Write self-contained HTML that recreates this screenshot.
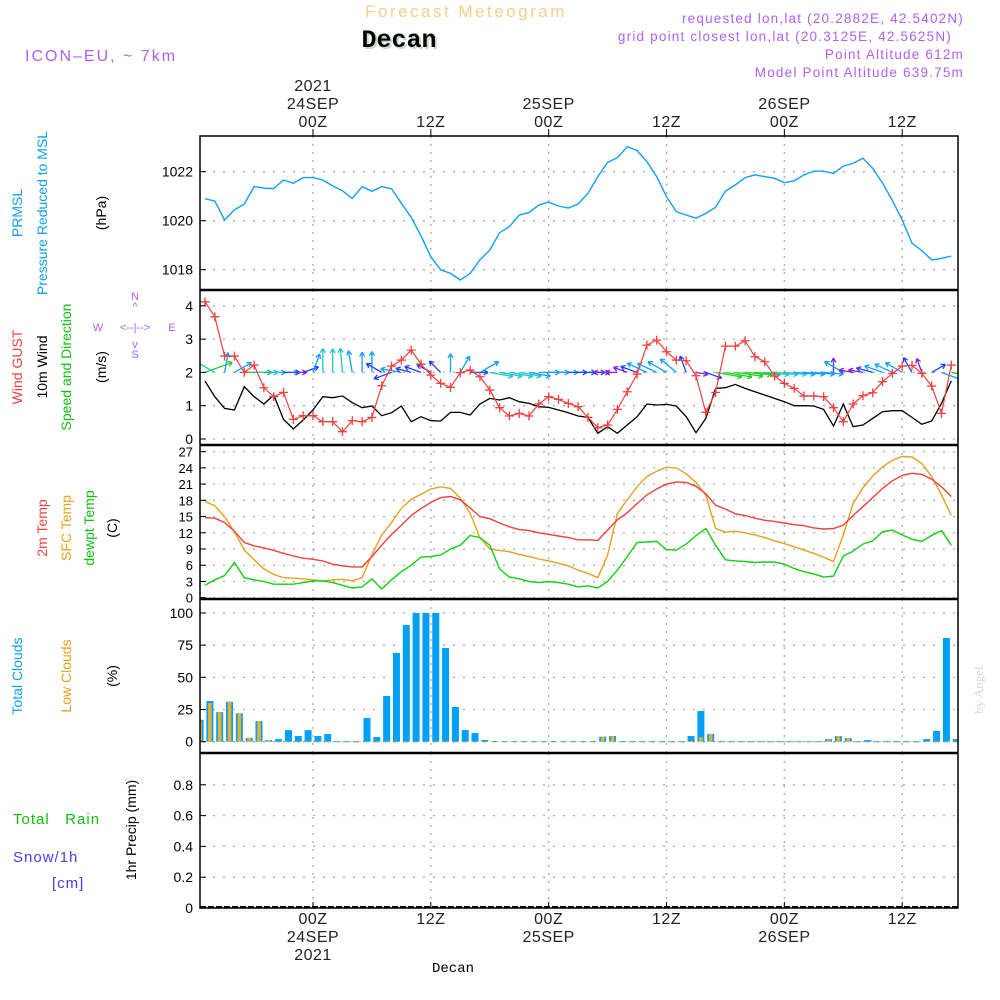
<!DOCTYPE html>
<html><head><meta charset="utf-8"><style>
html,body{margin:0;padding:0;background:#fff;}
svg{display:block;font-family:"Liberation Sans",sans-serif;}
</style></head><body>
<svg id="chart" width="1000" height="1000" viewBox="0 0 1000 1000" xmlns="http://www.w3.org/2000/svg">
<defs>
<clipPath id="cp-p"><rect x="200" y="136" width="758" height="154"/></clipPath>
<clipPath id="cp-w"><rect x="200" y="290" width="758" height="155"/></clipPath>
<clipPath id="cp-t"><rect x="200" y="445" width="758" height="154"/></clipPath>
<clipPath id="cp-c"><rect x="200" y="599" width="758" height="154"/></clipPath>
</defs>
<!-- header -->
<text x="466" y="17" text-anchor="middle" font-size="17" letter-spacing="2.5" fill="#f5cf8a">Forecast Meteogram</text>
<text x="401" y="49" text-anchor="middle" font-size="25" font-weight="bold" font-family="Liberation Mono, monospace" fill="#c8d8c8">Decan</text>
<text x="399" y="47" text-anchor="middle" font-size="25" font-weight="bold" font-family="Liberation Mono, monospace" fill="#000">Decan</text>
<text x="25" y="61" font-size="16" letter-spacing="2" fill="#b060f0">ICON–EU, ~ 7km</text>
<g font-size="13.5" letter-spacing="1.2" fill="#b060f0" text-anchor="end">
<text x="964" y="23">requested lon,lat (20.2882E, 42.5402N)</text>
<text x="952" y="41">grid point closest lon,lat (20.3125E, 42.5625N)</text>
<text x="964" y="59">Point Altitude 612m</text>
<text x="964" y="77">Model Point Altitude 639.75m</text>
</g>
<!-- left labels -->
<g font-size="14">
<text transform="translate(22,213) rotate(-90)" text-anchor="middle" fill="#10a0f0">PRMSL</text>
<text transform="translate(47,213) rotate(-90)" text-anchor="middle" fill="#10a0f0">Pressure Reduced to MSL</text>
<text transform="translate(106,213) rotate(-90)" text-anchor="middle" fill="#000">(hPa)</text>
</g>
<g font-size="14">
<text transform="translate(22,367) rotate(-90)" text-anchor="middle"><tspan fill="#f04040">Wind GUST</tspan></text>
<text transform="translate(47,367) rotate(-90)" text-anchor="middle" fill="#000">10m Wind</text>
<text transform="translate(71,367) rotate(-90)" text-anchor="middle" fill="#10c010">Speed and Direction</text>
<text transform="translate(106,367) rotate(-90)" text-anchor="middle" fill="#000">(m/s)</text>
</g>
<g font-size="11" fill="#b060f0" text-anchor="middle">
<text x="135" y="300">N</text><text x="135" y="310">^</text>
<text x="98" y="331">W</text><text x="135" y="331">&lt;--|--&gt;</text><text x="172" y="331">E</text>
<text x="135" y="348">v</text><text x="135" y="358">S</text>
</g>
<g font-size="14">
<text transform="translate(47,528) rotate(-90)" text-anchor="middle" fill="#f04040">2m Temp</text>
<text transform="translate(71,528) rotate(-90)" text-anchor="middle" fill="#e8a020">SFC Temp</text>
<text transform="translate(94,528) rotate(-90)" text-anchor="middle" fill="#10c010">dewpt Temp</text>
<text transform="translate(117,528) rotate(-90)" text-anchor="middle" fill="#000">(C)</text>
</g>
<g font-size="14">
<text transform="translate(22,676) rotate(-90)" text-anchor="middle" fill="#10a0f0">Total Clouds</text>
<text transform="translate(71,676) rotate(-90)" text-anchor="middle" fill="#e8a020">Low Clouds</text>
<text transform="translate(117,676) rotate(-90)" text-anchor="middle" fill="#000">(%)</text>
</g>
<g font-size="15" letter-spacing="1">
<text x="13" y="824" fill="#10c010" xml:space="preserve">Total   Rain</text>
<text x="13" y="862" fill="#4040f0">Snow/1h</text>
<text x="52" y="888" fill="#4040f0">[cm]</text>
<text transform="translate(136,830) rotate(-90)" text-anchor="middle" font-size="14" letter-spacing="0" fill="#000">1hr Precip (mm)</text>
</g>
<text transform="translate(983,690) rotate(-90)" text-anchor="middle" font-size="13" font-family="Liberation Serif, serif" fill="#d8d8d8">by Angel</text>
<text x="453" y="972" text-anchor="middle" font-size="14" font-family="Liberation Mono, monospace" fill="#000">Decan</text>
<g id="grid"></g>
<g id="marks"></g>
<g id="frame"></g>
</svg>
<script>
// ---- data (hourly, hours relative to 00Z 24SEP) ----
const hourStart = -11;
const pressure = [1020.90,1020.80,1020.03,1020.44,1020.68,1021.39,1021.33,1021.31,1021.66,1021.53,1021.76,1021.76,1021.66,1021.42,1021.22,1020.91,1021.39,1021.2,1021.39,1021.3,1020.71,1020.14,1019.38,1018.53,1017.99,1017.85,1017.58,1017.85,1018.4,1018.8,1019.51,1019.76,1020.23,1020.33,1020.64,1020.76,1020.6,1020.52,1020.68,1021.12,1021.8,1022.38,1022.57,1023.02,1022.86,1022.41,1021.8,1020.98,1020.37,1020.23,1020.1,1020.3,1020.55,1021.21,1021.46,1021.76,1021.87,1021.8,1021.73,1021.55,1021.63,1021.87,1022.02,1022.02,1021.93,1022.23,1022.34,1022.55,1022.14,1021.53,1020.82,1020.03,1019.08,1018.78,1018.4,1018.46,1018.56];
const gust = [4.12,3.67,2.49,2.49,2.0,2.22,1.54,1.27,1.4,0.59,0.7,0.7,0.52,0.52,0.22,0.55,0.52,0.65,1.6,2.19,2.37,2.67,2.25,1.92,1.67,1.55,1.99,2.07,1.87,1.47,0.94,0.69,0.77,0.69,1.05,1.27,1.19,1.07,0.97,0.65,0.34,0.42,0.89,1.42,1.95,2.82,2.97,2.62,2.37,2.35,1.9,0.8,1.4,2.79,2.79,2.95,2.47,2.32,1.89,1.67,1.52,1.29,1.29,1.27,0.94,0.52,1.05,1.3,1.39,1.72,1.97,2.19,2.21,1.97,1.59,0.77,2.22];
const wind10 = [1.74,1.27,0.92,0.87,1.57,1.27,1.05,1.32,0.59,0.3,0.57,0.87,1.27,1.24,1.29,1.09,0.94,0.99,0.7,0.79,0.99,0.52,0.67,0.55,0.54,0.8,0.8,0.72,1.05,1.22,1.17,1.24,1.12,1.07,0.97,0.95,0.87,0.79,0.69,0.65,0.17,0.37,0.17,0.42,0.67,1.05,1.02,1.04,0.99,0.67,0.19,0.62,1.52,1.54,1.64,1.52,1.42,1.32,1.22,1.12,1.0,1.0,0.99,0.89,0.39,1.05,0.37,0.42,0.62,0.82,0.85,0.85,0.65,0.44,0.54,1.07,1.75];
const windDir = [20,150,80,30,0,0,0,0,0,0,20,70,90,90,95,100,90,90,150,200,170,165,160,150,135,90,60,0,30,-10,-10,-10,-10,-10,0,0,0,0,0,0,0,180,180,160,160,155,155,150,140,110,-10,-20,-10,-10,-8,-5,-5,-5,-5,-5,-5,-5,-5,-5,90,150,170,170,165,160,155,150,120,110,30,-20,-10];
const temp2m = [14.8,14.7,13.9,12.3,10.2,9.6,9.2,8.75,8.2,7.7,7.3,7.1,6.8,6.2,5.9,5.7,5.7,7.6,9.7,11.7,13.4,15.2,16.5,17.6,18.5,18.7,18.1,16.6,15.0,14.6,13.8,13.1,12.6,12.4,12.0,11.7,11.4,11.1,10.7,10.7,10.6,12.5,14.4,15.7,17.4,19.0,20.1,21.0,21.4,21.3,20.6,19.2,17.1,16.4,15.5,15.2,14.7,14.3,14.1,13.8,13.5,13.3,12.9,12.7,12.8,13.4,15.2,16.8,18.5,20.2,21.6,22.6,23.0,22.8,21.9,20.5,18.7];
const tempSfc = [17.8,17.0,15.0,12.2,8.8,7.0,5.3,4.3,3.7,3.6,3.5,3.3,3.1,3.3,3.4,3.1,3.7,7.9,11.6,13.9,16.5,18.2,19.1,20.1,20.5,20.2,18.4,15.6,11.1,9.0,8.75,8.5,8.0,7.6,7.15,6.8,6.35,5.9,5.1,4.5,3.7,7.9,15.6,18.1,20.5,22.4,23.4,24.1,24.0,22.9,21.3,19.0,12.8,12.1,12.3,12.0,11.6,11.1,10.5,10.0,9.4,8.8,8.2,7.5,6.7,11.6,17.4,20.3,22.5,24.2,25.4,26.1,26.0,24.8,22.4,19.0,15.2];
const dewpt = [2.3,3.3,4.1,6.5,3.7,3.3,3.0,2.5,2.5,2.5,2.8,3.1,3.1,2.8,2.3,1.8,2.0,3.5,1.6,3.3,4.8,6.0,7.5,7.6,7.9,9.0,9.7,11.5,11.1,9.7,5.3,3.8,3.5,3.0,2.8,3.0,2.8,2.5,2.0,2.2,1.8,3.0,5.1,7.6,10.2,10.3,10.4,8.9,8.8,9.9,11.5,12.8,9.7,7.0,6.8,6.7,6.5,6.6,6.6,6.2,5.4,4.8,4.4,3.8,4.0,7.7,8.6,9.9,10.5,12.2,12.5,11.6,10.8,10.4,11.5,12.4,9.7];
const cloudStart = -12;
const totalClouds = [17,31.6,23,31,22,3,16,1.3,2,9,4.4,9,4.4,6,0.5,0.5,0.5,18.4,3.6,35.5,69,90.7,100,100,100,72.8,27,9,6.7,1.3,0.5,0.5,0.5,0.5,0.5,0.5,0.5,0.5,0.5,0.5,0.5,3.9,4.4,0.5,0.5,0.5,0.5,0.5,0.5,0.5,4.4,23.8,6,0.5,0.5,0.5,0.5,0.5,0.5,0.5,0.5,0.5,0.5,0.5,2,4.4,2.8,0.5,1.3,0.5,0.5,0.5,0.5,0.5,2,8.3,80.6,2];
const lowClouds = [15.5,30,23,31,22,3,16,1.3,0,0,0,0,0,0,0,0,0,0,0,0,0,0,0,0,0,0,0,0,0,0,0,0,0,0,0,0,0,0,0,0,0,3.9,4.4,0,0,0,0,0,0,0,0.5,3.6,6,0,0,0,0,0,0,0,0,0,0,0,2,4.4,2.8,0,0,0,0,0,0,0,0.5,0,0,0];
const pressureTicks = [1018,1020,1022];
const windTicks = [0,1,2,3,4];
const tempTicks = [0,3,6,9,12,15,18,21,24,27];
const cloudTicks = [0,25,50,75,100];
const precipTicks = [0,0.2,0.4,0.6,0.8];
const timeTicks = [0,12,24,36,48,60];
const timeTopLabels = [["2021","24SEP","00Z"],["","","12Z"],["","25SEP","00Z"],["","","12Z"],["","26SEP","00Z"],["","","12Z"]];
const timeBottomLabels = [["00Z","24SEP","2021"],["12Z","",""],["00Z","25SEP",""],["12Z","",""],["00Z","26SEP",""],["12Z","",""]];

// ---- axes ----
const X = h => 313 + h * 9.82;
const Yp = p => 220.7 - (p - 1020) * 24.5;
const Yw = v => 439 - 33.3 * v;
const Yt = t => 597.7 - 5.41 * t;
const Yc = c => 741.7 - 1.287 * c;
const Ypr = v => 908 - 154 * v;

const NS = 'http://www.w3.org/2000/svg';
function mk(tag, attrs, parent){
  const e = document.createElementNS(NS, tag);
  for (const k in attrs) e.setAttribute(k, attrs[k]);
  parent.appendChild(e);
  return e;
}
const grid = document.getElementById('grid');
const marks = document.getElementById('marks');
const frame = document.getElementById('frame');
const panels = [
  {top:136,bot:290,ticks:pressureTicks,Y:Yp,name:'pressure',fmt:v=>String(v)},
  {top:290,bot:445,ticks:windTicks,Y:Yw,name:'wind',fmt:v=>String(v)},
  {top:445,bot:599,ticks:tempTicks,Y:Yt,name:'temp',fmt:v=>String(v)},
  {top:599,bot:753,ticks:cloudTicks,Y:Yc,name:'cloud',fmt:v=>String(v)},
  {top:753,bot:908,ticks:precipTicks,Y:Ypr,name:'precip',fmt:v=>v===0?'0':v.toFixed(1)}
];
panels.forEach(P => {
  timeTicks.forEach(h => {
    const l = mk('line',{x1:X(h),x2:X(h),y1:P.top,y2:P.bot,stroke:'#aaa','stroke-width':1.3,'stroke-dasharray':'2,6'},grid);
    
    
  });
  P.ticks.forEach(v => {
    const y = P.Y(v);
    const g = mk('line',{x1:203,x2:958,y1:y,y2:y,stroke:'#aaa','stroke-width':1.3,'stroke-dasharray':'2,8'},grid);
    
    
    mk('line',{x1:200,x2:206,y1:y,y2:y,stroke:'#000','stroke-width':1},frame);
    const t = mk('text',{x:193,y:y+5,'text-anchor':'end','font-size':P.name==='temp'?13:14,fill:'#000'},frame);
    
    
    t.textContent = P.fmt(v);
  });
});
// time labels
timeTicks.forEach((h,i) => {
  mk('line',{x1:X(h),x2:X(h),y1:129,y2:136,stroke:'#000'},frame);
  mk('line',{x1:X(h),x2:X(h),y1:908,y2:902,stroke:'#000'},frame);
  timeTopLabels[i].forEach((s,j) => {
    if(!s) return;
    const t = mk('text',{x:X(h),y:[91,109,127][j],'text-anchor':'middle','font-size':16,fill:'#222','letter-spacing':'0.5'},frame);
    
    
    t.textContent = s;
  });
  timeBottomLabels[i].forEach((s,j) => {
    if(!s) return;
    const t = mk('text',{x:X(h),y:[924,942,960][j],'text-anchor':'middle','font-size':16,fill:'#222','letter-spacing':'0.5'},frame);
    
    
    t.textContent = s;
  });
});
// frame
mk('rect',{x:200,y:136,width:758,height:772,fill:'none',stroke:'#000','stroke-width':1.5},frame);
[290,445,599,753].forEach(y => {
  const l = mk('line',{x1:200,x2:958,y1:y,y2:y,stroke:'#000','stroke-width':2.5},frame);
  
  
});
mk('line',{x1:200,x2:958,y1:907,y2:907,stroke:'#000','stroke-width':2,'stroke-dasharray':'6,2'},frame);

function linePath(arr, Y){
  return arr.map((v,i) => (i?'L':'M') + X(hourStart+i).toFixed(1) + ',' + Y(v).toFixed(1)).join(' ');
}
// pressure
const pl = mk('path',{d:linePath(pressure,Yp),fill:'none',stroke:'#10a0f0','stroke-width':1.4,'clip-path':'url(#cp-p)'},marks);


// wind 10m
const wl = mk('path',{d:linePath(wind10,Yw),fill:'none',stroke:'#000','stroke-width':1.3,'clip-path':'url(#cp-w)'},marks);


// wind arrows
function arrowColor(s){
  if (s < 0.5) return '#8020e0';
  if (s < 0.8) return '#2040ff';
  if (s < 1.1) return '#10a0ff';
  if (s < 1.4) return '#20c8c8';
  return '#20d020';
}
windDir.forEach((d,i) => {
  const h = hourStart + i;
  const x0 = X(h), y0 = Yw(2);
  const len = 10 + 11 * wind10[i];
  const a = d * Math.PI / 180;
  const x1 = x0 + len*Math.cos(a), y1 = y0 - len*Math.sin(a);
  const col = arrowColor(wind10[i]);
  const g = mk('g',{stroke:col,'stroke-width':1.3,fill:'none','clip-path':'url(#cp-w)'},marks);
  
  
  mk('line',{x1:x0,y1:y0,x2:x1,y2:y1},g);
  [150,-150].forEach(off => {
    const b = a + off*Math.PI/180;
    mk('line',{x1:x1,y1:y1,x2:x1+5*Math.cos(b),y2:y1-5*Math.sin(b)},g);
  });
});
// gust
const gl = mk('path',{d:linePath(gust,Yw),fill:'none',stroke:'#f04040','stroke-width':1.2,'clip-path':'url(#cp-w)'},marks);


gust.forEach((v,i) => {
  const x = X(hourStart+i), y = Yw(v);
  const m = mk('path',{d:`M${x-4.5},${y}H${x+4.5}M${x},${y-4.5}V${y+4.5}`,stroke:'#f04040','stroke-width':1.3,'clip-path':'url(#cp-w)'},marks);
  
  
});
// temps
[[tempSfc,'#e8a020','sfc-temp-line'],[temp2m,'#f04040','temp2m-line'],[dewpt,'#10d010','dewpt-line']].forEach(([arr,col,nm]) => {
  const p = mk('path',{d:linePath(arr,Yt),fill:'none',stroke:col,'stroke-width':1.4,'clip-path':'url(#cp-t)'},marks);
  
  
});
// clouds
totalClouds.forEach((v,i) => {
  const cx = X(cloudStart + i + 0.5);
  const r = mk('rect',{x:cx-3.5,y:Yc(v),width:7,height:Yc(0)-Yc(v),fill:'#00a0f8','clip-path':'url(#cp-c)'},marks);
  
  
  const lv = lowClouds[i];
  const r2 = mk('rect',{x:cx-1.8,y:Yc(lv),width:3.6,height:Math.max(Yc(0)-Yc(lv),0.8),fill:'#e8b030','clip-path':'url(#cp-c)'},marks);
  
  
});
</script>
</body></html>
